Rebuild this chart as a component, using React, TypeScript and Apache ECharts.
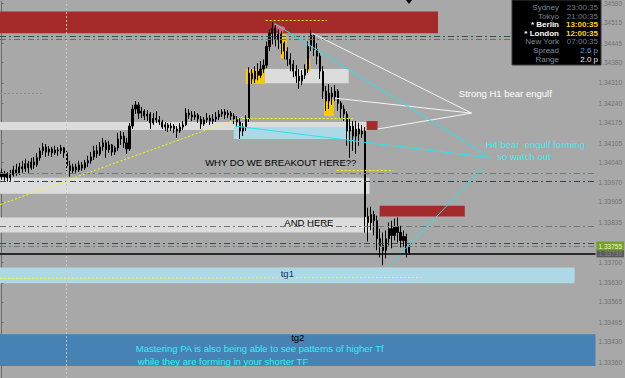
import React, { useEffect, useRef } from 'react';
import * as echarts from 'echarts';

// ---- price scale ----
const yMin = 1.33306;
const yMax = 1.34587;
const tickValues = [1.3458, 1.34515, 1.34445, 1.3438, 1.3431, 1.3424, 1.34175, 1.34105, 1.3404, 1.3397, 1.33905, 1.33835, 1.337, 1.3363, 1.33565, 1.33495, 1.3343, 1.3336];

// ---- candles (index = bar number) ----
const opens = [1.34004,1.33991,1.34001,1.33987,1.33997,1.34014,1.34004,1.34024,1.34018,1.34035,1.34021,1.34041,1.34031,1.34055,1.34079,1.34092,1.34075,1.34085,1.34072,1.34082,1.34079,1.34089,1.34072,1.34028,1.34011,1.34024,1.34014,1.34031,1.34021,1.34038,1.34045,1.34058,1.34079,1.34068,1.34092,1.34106,1.34082,1.34099,1.34075,1.34089,1.34119,1.34129,1.34106,1.34085,1.34163,1.34221,1.34235,1.34207,1.34214,1.34197,1.34204,1.34174,1.3419,1.34184,1.34177,1.3416,1.34167,1.34157,1.34163,1.34153,1.34146,1.3416,1.34167,1.34207,1.34201,1.34194,1.34201,1.34187,1.3417,1.34184,1.3419,1.3418,1.34187,1.34194,1.34204,1.34211,1.34201,1.34207,1.34197,1.34187,1.34177,1.34146,1.3416,1.34187,1.34343,1.34323,1.3435,1.34336,1.34357,1.3437,1.34434,1.34479,1.34496,1.34458,1.34475,1.34445,1.34418,1.3439,1.34373,1.3435,1.34333,1.34316,1.34336,1.34357,1.34434,1.34472,1.34424,1.34401,1.3435,1.34282,1.34248,1.34275,1.34262,1.34282,1.34241,1.34221,1.34204,1.34146,1.34163,1.34129,1.34153,1.34136,1.34146,1.33855,1.33835,1.33862,1.33841,1.3378,1.33757,1.3374,1.3378,1.33814,1.33791,1.33821,1.33801,1.33774,1.33787,1.33733];
const closes = [1.33991,1.34001,1.33987,1.33997,1.34014,1.34004,1.34024,1.34018,1.34035,1.34021,1.34041,1.34031,1.34055,1.34079,1.34092,1.34075,1.34085,1.34072,1.34082,1.34079,1.34089,1.34072,1.34028,1.34011,1.34024,1.34014,1.34031,1.34021,1.34038,1.34045,1.34058,1.34079,1.34068,1.34092,1.34106,1.34082,1.34099,1.34075,1.34089,1.34119,1.34129,1.34106,1.34085,1.34163,1.34221,1.34235,1.34207,1.34214,1.34197,1.34204,1.34174,1.3419,1.34184,1.34177,1.3416,1.34167,1.34157,1.34163,1.34153,1.34146,1.3416,1.34167,1.34207,1.34201,1.34194,1.34201,1.34187,1.3417,1.34184,1.3419,1.3418,1.34187,1.34194,1.34204,1.34211,1.34201,1.34207,1.34197,1.34187,1.34177,1.34146,1.3416,1.34187,1.34343,1.34323,1.3435,1.34336,1.34357,1.3437,1.34434,1.34479,1.34496,1.34458,1.34475,1.34445,1.34418,1.3439,1.34373,1.3435,1.34333,1.34316,1.34336,1.34357,1.34434,1.34472,1.34424,1.34401,1.3435,1.34282,1.34248,1.34275,1.34262,1.34282,1.34241,1.34221,1.34204,1.34146,1.34163,1.34129,1.34153,1.34136,1.34146,1.33855,1.33835,1.33862,1.33841,1.3378,1.33757,1.3374,1.3378,1.33814,1.33791,1.33821,1.33801,1.33774,1.33787,1.33733,1.33755];
const lows = [1.3398,1.33977,1.33974,1.33977,1.33991,1.33994,1.33997,1.34004,1.34007,1.34001,1.34014,1.34018,1.34024,1.34045,1.34065,1.34058,1.34062,1.34058,1.34065,1.34062,1.34068,1.34055,1.34011,1.33991,1.34001,1.34004,1.34007,1.34011,1.34014,1.34024,1.34035,1.34048,1.34055,1.34062,1.34079,1.34055,1.34072,1.34062,1.34065,1.34079,1.34099,1.34089,1.34068,1.34079,1.34153,1.34204,1.34187,1.3419,1.34184,1.3418,1.34153,1.34167,1.34174,1.34167,1.34153,1.34146,1.34143,1.34146,1.3414,1.34123,1.3414,1.3415,1.34163,1.34187,1.3418,1.34184,1.34174,1.34153,1.34163,1.34174,1.34167,1.3417,1.34177,1.34184,1.34194,1.34187,1.3419,1.34184,1.3417,1.3416,1.34119,1.34129,1.34146,1.34177,1.34306,1.34309,1.34319,1.34326,1.34343,1.3436,1.34418,1.34441,1.34434,1.34424,1.34407,1.3439,1.34367,1.3435,1.34329,1.34309,1.34289,1.34302,1.34323,1.34343,1.34418,1.34401,1.34373,1.34323,1.34255,1.34214,1.34221,1.34235,1.34248,1.34214,1.34187,1.3418,1.34096,1.34055,1.34079,1.34068,1.34096,1.34123,1.33801,1.3377,1.33808,1.33791,1.3374,1.33716,1.33689,1.33713,1.33757,1.33747,1.33774,1.33767,1.3375,1.33753,1.33716,1.33726];
const highs = [1.34018,1.34011,1.34007,1.34014,1.34028,1.34035,1.34038,1.34045,1.34052,1.34045,1.34055,1.34058,1.34072,1.34089,1.34106,1.34102,1.34096,1.34092,1.34096,1.34092,1.34099,1.34092,1.34079,1.34045,1.34035,1.34035,1.34045,1.34041,1.34048,1.34062,1.34075,1.34096,1.34099,1.34109,1.34123,1.34116,1.34113,1.34102,1.34096,1.3414,1.34146,1.34143,1.34123,1.34174,1.34235,1.34248,1.34245,1.34228,1.34221,1.34218,1.34211,1.34207,1.34214,1.34197,1.34184,1.34177,1.34174,1.34174,1.3417,1.34163,1.34174,1.3418,1.34224,1.34221,1.34214,1.34214,1.34207,1.34197,1.34194,1.34207,1.34201,1.34204,1.34211,1.34218,1.34221,1.34221,1.34218,1.34214,1.34207,1.34197,1.3419,1.34174,1.34201,1.34363,1.34357,1.34367,1.34377,1.34384,1.3439,1.34451,1.34492,1.34516,1.34506,1.34492,1.34485,1.34451,1.34431,1.34411,1.34387,1.3437,1.34357,1.34353,1.34373,1.34451,1.34489,1.34475,1.34445,1.34411,1.34367,1.34299,1.34306,1.34296,1.34302,1.34289,1.34248,1.34235,1.34214,1.34187,1.3418,1.3418,1.34174,1.34167,1.3416,1.33885,1.33889,1.33875,1.33858,1.33814,1.33801,1.33808,1.33835,1.33841,1.33848,1.33852,1.33824,1.33808,1.33797,1.3376];

// ---- zones: [barFrom, barTo, priceTop, priceBottom] ----
const redZones = [[-0.5, 146.6, 1.34553, 1.34479], [127.0, 155.6, 1.33892, 1.33855], [122.6, 126.3, 1.3418, 1.3415]];
const grayZones = [[88.4, 116.6, 1.34357, 1.34309], [-0.5, 123.3, 1.34177, 1.3415], [-0.5, 123.6, 1.33987, 1.33933], [-0.5, 124.3, 1.33852, 1.33801]];
const blueZones = [[78.0, 116.6, 1.3416, 1.34119]];
const yellowZones = [[82.0, 88.4, 1.34357, 1.34306], [93.7, 95.7, 1.34475, 1.34394], [102.3, 103.7, 1.34394, 1.3435], [108.3, 111.6, 1.34255, 1.34197]];
const tg1Zone = [-0.5, 192.5, 1.33682, 1.33628];
const tg2Zone = [1.33455, 1.33347];

// ---- horizontal levels ----
const dashLevels = [1.34467, 1.3446, 1.34004, 1.33974, 1.33821, 1.33764, 1.33753];
const bidLevel = 1.3373;
const lastPrice = 1.33755;

// ---- trend lines: [barA, priceA, barB, priceB] ----
const whiteLines = [[104.3, 1.34479, 157.9, 1.34207], [112.0, 1.34258, 157.9, 1.34207], [126.3, 1.34153, 157.9, 1.34207]];
const cyanLines = [[91.7, 1.34512, 164.2, 1.34055], [78.4, 1.34163, 164.2, 1.34055], [130.3, 1.33689, 161.6, 1.34018]];
const yellowLines = [[-0.5, 1.33896, 81.0, 1.34194], [81.0, 1.3419, 118.3, 1.3419], [88.7, 1.34523, 109.3, 1.34523], [-0.5, 1.33645, 140.9, 1.33648], [112.6, 1.34014, 131.6, 1.34014]];
const grayLines = [[-0.5, 1.34275, 13.8, 1.34275]];
const separatorBars = [21.8];

// ---- triangle ----
const triBars = [91.3, 95.3, 94.0];
const triPrices = [1.34512, 1.34499, 1.34468];

// ---- text notes ----
const noteTexts = ['WHY DO WE BREAKOUT HERE??', 'AND HERE', 'Strong H1 bear engulf', 'H4 bear  engulf forming', 'so watch out', 'Mastering PA is also being able to see patterns of higher Tf', 'while they are forming in your shorter TF'];
const noteBars = [68.4, 95.0, 153.6, 162.6, 166.5, 45.1, 45.8];
const notePrices = [1.34038, 1.33835, 1.34275, 1.34099, 1.34058, 1.33405, 1.33362];

// ---- info panel ----
const sessionNames = ['Sydney', 'Tokyo', '* Berlin', '* London', 'New York', 'Spread', 'Range'];
const sessionValues = ['23:00:35', '21:00:35', '13:00:35', '12:00:35', '07:00:35', '2.6 p', '2.0 p'];

export default function App() {
  const ref = useRef<HTMLDivElement>(null);
  useEffect(() => {
    const chart = echarts.init(ref.current!, null, { renderer: 'svg' });
    const FONT = 'Liberation Sans';
    const candleData = opens.map((o, i) => [i, o, closes[i], lows[i], highs[i]]);

    const area = (z: number[], color: string, label?: any) => [
      { xAxis: z[0], yAxis: z[2], itemStyle: { color }, label },
      { xAxis: z[1], yAxis: z[3] },
    ];
    const seg = (l: number[], lineStyle: any) => [
      { coord: [l[0], l[1]], lineStyle },
      { coord: [l[2], l[3]] },
    ];

    const dashStyles = [
      { color: '#33504d' }, { color: '#e0383a' }, { color: '#687b77' }, { color: '#2f4a48' },
      { color: '#687b77' }, { color: '#33504d' }, { color: '#687b77' },
    ];
    const noteColors = ['#000000', '#000000', '#ffffff', '#2ef2f2', '#2ef2f2', '#2ef2f2', '#2ef2f2'];

    const markAreaData: any[] = [
      area(redZones[0], '#a52a2a'),
      ...grayZones.map((z) => area(z, '#dcdcdc')),
      ...blueZones.map((z) => area(z, '#add8e6')),
      area(redZones[1], '#a52a2a'),
      area(redZones[2], '#a52a2a'),
      ...yellowZones.map((z) => area(z, '#f5cc00')),
      area(tg1Zone, '#add8e6', { show: true, formatter: 'tg1', position: 'insideTop', distance: 1, color: '#0d2f66', fontSize: 9.5, fontFamily: FONT }),
      [
        { yAxis: tg2Zone[0], itemStyle: { color: '#4682b4' }, label: { show: true, formatter: 'tg2', position: 'insideTop', distance: -2, color: '#000', fontSize: 9.5, fontFamily: FONT } },
        { yAxis: tg2Zone[1] },
      ],
    ];

    const markLineData: any[] = [
      ...dashLevels.map((v, i) => ({ yAxis: v, lineStyle: { ...dashStyles[i], width: 1, type: [6, 3, 2, 3] } })),
      ...separatorBars.map((b) => ({ xAxis: b, lineStyle: { color: '#c4c4c4', width: 1, type: [2, 2] } })),
      ...grayLines.map((l) => seg(l, { color: '#8c8c8c', width: 1, type: [2, 2] })),
      ...yellowLines.map((l) => seg(l, { color: '#ffff00', width: 1, type: [2, 2] })),
      ...whiteLines.map((l) => seg(l, { color: '#f4f4f4', width: 1, type: 'solid' })),
      ...cyanLines.map((l) => seg(l, { color: '#22e6ee', width: 1, type: 'solid' })),
      {
        yAxis: bidLevel,
        lineStyle: { color: '#000', width: 1.6, type: 'solid' },
        label: { show: true, position: 'end', distance: 1, formatter: '1.33730', color: '#8a8a8a', backgroundColor: '#5a5a5a', padding: [1, 2, 0, 2], fontSize: 6.5, fontFamily: FONT },
      },
      {
        yAxis: lastPrice,
        lineStyle: { color: 'rgba(0,0,0,0)', width: 0, opacity: 1 },
        label: { show: true, opacity: 1, position: 'end', distance: 1, formatter: '1.33755', color: '#eef6dc', backgroundColor: '#76a026', padding: [1, 2, 1, 2], fontSize: 6.5, fontFamily: FONT },
      },
    ];

    const markPointData = noteTexts.map((t, i) => ({
      coord: [noteBars[i], notePrices[i]],
      label: { show: true, formatter: t, position: 'right', distance: 0, color: noteColors[i], fontSize: 9.5, fontFamily: FONT },
    }));

    const infoGraphics: any[] = [
      { type: 'rect', shape: { x: 512, y: 0, width: 89, height: 65 }, style: { fill: '#000', stroke: '#3c3c3c', lineWidth: 1 }, z: 100 },
    ];
    const nameColors = ['#7c8996', '#7c8996', '#ffffff', '#ffffff', '#7c8996', '#7f8ea3', '#7f8ea3'];
    const valueColors = ['#6f7c89', '#6f7c89', '#ffd400', '#ffd400', '#6f7c89', '#6a9bd6', '#ececec'];
    sessionNames.forEach((n, k) => {
      const y = 7.5 + 8.6 * k;
      const bold = k === 2 || k === 3;
      infoGraphics.push({ type: 'text', z: 101, style: { text: n, x: 559, y, align: 'right', verticalAlign: 'middle', fill: nameColors[k], font: `${bold ? 'bold ' : ''}8px ${FONT}` } });
      infoGraphics.push({ type: 'text', z: 101, style: { text: sessionValues[k], x: 598, y, align: 'right', verticalAlign: 'middle', fill: valueColors[k], font: `${bold ? 'bold ' : ''}8px ${FONT}` } });
    });
    infoGraphics.push({ type: 'polygon', z: 101, shape: { points: [[406, 0], [412, 0], [409, 4]] }, style: { fill: '#000' } });

    const option: any = {
      animation: false,
      backgroundColor: '#a8a8a8',
      grid: { left: 0, right: 24, top: 0, bottom: 0 },
      xAxis: { type: 'value', min: -0.5, max: 199.5, show: false },
      yAxis: {
        type: 'value', position: 'right', min: yMin, max: yMax,
        splitLine: { show: false },
        axisLine: { show: true, lineStyle: { color: '#6c6c6c', width: 1 } },
        axisTick: { show: true, customValues: tickValues, length: 2, lineStyle: { color: '#6c6c6c' } },
        axisLabel: { show: true, customValues: tickValues, formatter: (v: number) => v.toFixed(5), color: '#727272', fontSize: 6.5, fontFamily: FONT, margin: 3 },
      },
      graphic: infoGraphics,
      series: [
        {
          type: 'custom',
          silent: true,
          data: [[triBars[0], triPrices[0]]],
          renderItem: (_p: any, api: any) => ({
            type: 'polygon',
            shape: { points: triBars.map((b, i) => api.coord([b, triPrices[i]])) },
            style: { fill: '#e45a78' },
          }),
        },
        {
          type: 'candlestick',
          data: candleData,
          encode: { x: 0, y: [1, 2, 3, 4] },
          barWidth: 1.6,
          silent: true,
          itemStyle: { color: '#000', color0: '#000', borderColor: '#000', borderColor0: '#000', borderWidth: 1 },
          markArea: { silent: true, label: { show: false }, data: markAreaData },
          markLine: { silent: true, precision: 6, symbol: ['none', 'none'], label: { show: false }, data: markLineData },
          markPoint: { silent: true, symbol: 'circle', symbolSize: 0, itemStyle: { color: 'transparent' }, data: markPointData },
        },
      ],
    };
    chart.setOption(option);
    return () => chart.dispose();
  }, []);
  return <div ref={ref} style={{ position: 'fixed', left: 0, top: 0, width: 625, height: 378 }} />;
}
